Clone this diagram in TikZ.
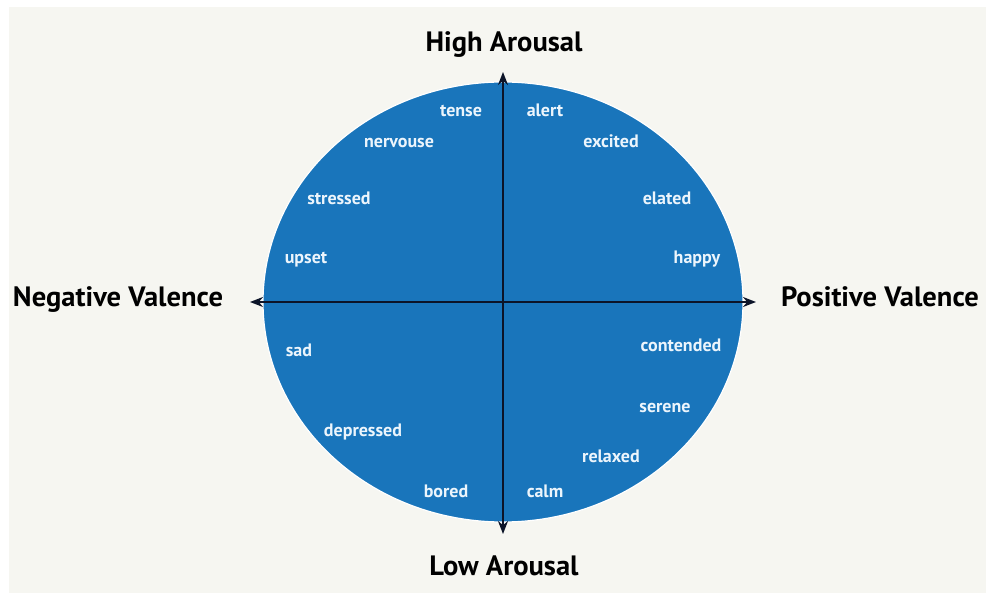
\documentclass[tikz,border=0pt]{standalone}
\usepackage{fontspec}
\setmainfont{PT Sans}
\usetikzlibrary{arrows.meta}
\definecolor{paper}{RGB}{246,246,241}
\definecolor{disc}{RGB}{25,117,187}
\definecolor{axisink}{RGB}{12,20,40}
\definecolor{wordink}{RGB}{236,245,252}
\newcommand{\narrowtxt}[2]{\scalebox{#1}[1]{#2}}
\tikzset{
  mood/.style={text=wordink, font=\bfseries\fontsize{18}{18}\selectfont, inner sep=0pt, anchor=base},
  pole/.style={text=black, font=\bfseries\fontsize{28}{28}\selectfont, inner sep=0pt, anchor=base},
  axisline/.style={draw=axisink, line width=1.8pt, {Stealth[length=13pt,width=10pt]}-{Stealth[length=13pt,width=10pt]}}
}
\begin{document}
\begin{tikzpicture}[x=1pt,y=-1pt]
  % canvas
  \useasboundingbox (0,0) rectangle (986,593);
  \fill[white] (0,0) rectangle (986,593);
  \fill[paper] (9,7) rectangle (986,593);

  % valence/arousal disc
  \fill[disc, draw=white, line width=1.2pt] (503,302) ellipse [x radius=240, y radius=220];

  % axis end points
  \coordinate (top) at (503,72);
  \coordinate (bottom) at (503,534);
  \coordinate (left) at (250,302);
  \coordinate (right) at (756,302);
  \draw[axisline] (top) -- (bottom);
  \draw[axisline] (left) -- (right);

  % pole labels
  \node[pole] (high) at (504,52) {\narrowtxt{1.02}{High Arousal}};
  \node[pole] (low) at (504,575) {\narrowtxt{1.02}{Low Arousal}};
  \node[pole] (neg) at (118,307) {\narrowtxt{1.02}{Negative Valence}};
  \node[pole] (pos) at (880,307) {\narrowtxt{1.02}{Positive Valence}};

  % upper left quadrant
  \node[mood] (tense) at (461,117) {tense};
  \node[mood] (nervouse) at (399,148) {nervouse};
  \node[mood] (stressed) at (339,205) {stressed};
  \node[mood] (upset) at (306,264) {upset};
  % upper right quadrant
  \node[mood] (alert) at (545,117) {alert};
  \node[mood] (excited) at (611,148) {excited};
  \node[mood] (elated) at (667,205) {elated};
  \node[mood] (happy) at (697,264) {happy};
  % lower left quadrant
  \node[mood] (sad) at (299,357) {sad};
  \node[mood] (depressed) at (363,437) {depressed};
  \node[mood] (bored) at (446,498) {bored};
  % lower right quadrant
  \node[mood] (contended) at (681,352) {contended};
  \node[mood] (serene) at (665,413) {serene};
  \node[mood] (relaxed) at (611,463) {relaxed};
  \node[mood] (calm) at (545,498) {calm};
\end{tikzpicture}
\end{document}
